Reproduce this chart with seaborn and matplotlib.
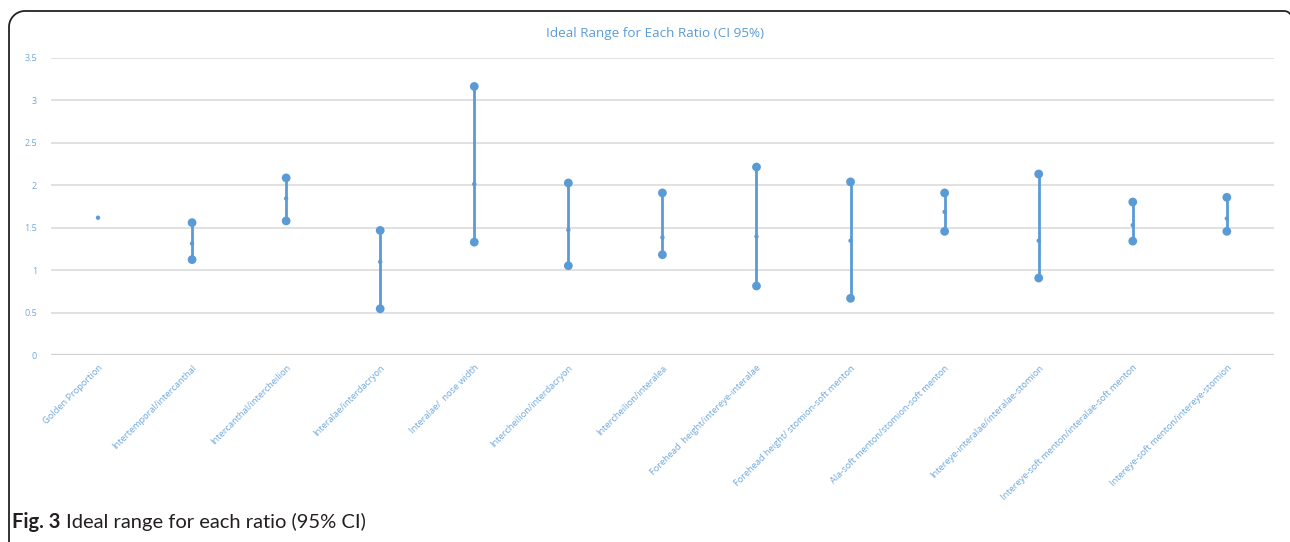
import numpy as np
import pandas as pd
import matplotlib
matplotlib.use("Agg")
import matplotlib.pyplot as plt
from matplotlib.lines import Line2D
import seaborn as sns

categories = [
    "Golden Proportion",
    "Intertemporal/intercanthal",
    "Intercanthal/intercheilion",
    "Interalae/interdacryon",
    "Interalae/  nose width",
    "Intercheilion/interdacryon",
    "Intercheilion/interalea",
    "Forehead  height/intereye-interalae",
    "Forehead height/ stomion-soft menton",
    "Ala-soft menton/stomion-soft menton",
    "Intereye-interalae/interalae-stomion",
    "Intereye-soft menton/interalae-soft menton",
    "Intereye-soft menton/intereye-stomion",
]
upper = [np.nan, 1.56, 2.087, 1.468, 3.165, 2.027, 1.91, 2.215, 2.04, 1.91, 2.133, 1.803, 1.858]
middle = [1.618, 1.313, 1.845, 1.098, 2.015, 1.473, 1.385, 1.397, 1.347, 1.687, 1.347, 1.53, 1.608]
lower = [np.nan, 1.124, 1.58, 0.545, 1.33, 1.052, 1.182, 0.813, 0.668, 1.457, 0.907, 1.342, 1.457]
y_ticks = [0, 0.5, 1, 1.5, 2, 2.5, 3, 3.5]
y_tick_labels = ["0", "0.5", "1", "1.5", "2", "2.5", "3", "3.5"]

BLUE = "#5b9bd5"
TXT = "#6fa8dc"
W, H = 1290, 542

sns.set_theme(style="white")
plt.rcParams["font.family"] = ["Open Sans", "DejaVu Sans"]

df = pd.DataFrame({"category": categories, "upper": upper, "middle": middle, "lower": lower})
df["idx"] = np.arange(len(df))
ends = pd.concat([
    df[["category", "idx", "upper"]].rename(columns={"upper": "value"}),
    df[["category", "idx", "lower"]].rename(columns={"lower": "value"}),
]).dropna()

fig = plt.figure(figsize=(W / 100, H / 100), dpi=100)
ax = fig.add_axes([0.0395, 0.345, 0.948, 0.548])

# grid lines
for t in y_ticks:
    ax.axhline(t, color="#d0d0d0" if t == 0 else "#d9d9d9", lw=1.6 if t == 0 else 1.1, zorder=0)

rng = df.dropna(subset=["upper", "lower"])
ax.vlines(rng["idx"], rng["lower"], rng["upper"], color=BLUE, lw=2.0, zorder=2)
sns.scatterplot(data=ends, x="idx", y="value", color=BLUE, s=40, edgecolor="none", ax=ax, zorder=3)
sns.scatterplot(data=df, x="idx", y="middle", color=BLUE, s=10, edgecolor="none", ax=ax, zorder=4)

ax.set_xlim(-0.5, len(categories) - 0.5)
ax.set_ylim(0, 3.5)
ax.set_yticks(y_ticks)
ax.set_yticklabels(y_tick_labels, fontsize=6.5, color=TXT)
ax.set_xticks(df["idx"])
ax.set_xticklabels(categories, rotation=45, ha="right", va="top", rotation_mode="anchor",
                   fontsize=6.7, color=TXT)
ax.tick_params(axis="both", length=0, pad=10)
ax.tick_params(axis="x", pad=6)
ax.set_xlabel("")
ax.set_ylabel("")
for s in ax.spines.values():
    s.set_visible(False)
ax.set_facecolor("none")

fig.text(655 / W, 1 - 33 / H, "Ideal Range for Each Ratio (CI 95%)", ha="center", va="center",
         fontsize=9.7, color=BLUE)

# frame: left side, rounded top-left corner, top line, small curve at right edge
r = 16
th = np.linspace(np.pi, np.pi / 2, 20)
cx, cy = 9 + r, 11 + r
px = [9] + list(cx + r * np.cos(th)) + [1284]
py = [H + 5] + list(cy - r * np.sin(th)) + [11]
th2 = np.linspace(np.pi / 2, 0.2, 10)
px += list(1284 + 8 * np.cos(th2))
py += list(19 - 8 * np.sin(th2))
fig.add_artist(Line2D(np.array(px) / W, 1 - np.array(py) / H, transform=fig.transFigure,
                      color="#222222", lw=1.3, solid_capstyle="butt"))

t1 = fig.text(12 / W, 1 - 522 / H, "Fig. 3", ha="left", va="center", fontsize=14.5,
              fontweight="bold", color="#231f20", family=["Lato", "DejaVu Sans"])
fig.canvas.draw()
bb = t1.get_window_extent()
fig.text((bb.x1 + 5) / W, 1 - 522 / H, "Ideal range for each ratio (95% CI)", ha="left",
         va="center", fontsize=14.5, color="#231f20", family=["Lato", "DejaVu Sans"])

fig.savefig("out.png", dpi=100)
